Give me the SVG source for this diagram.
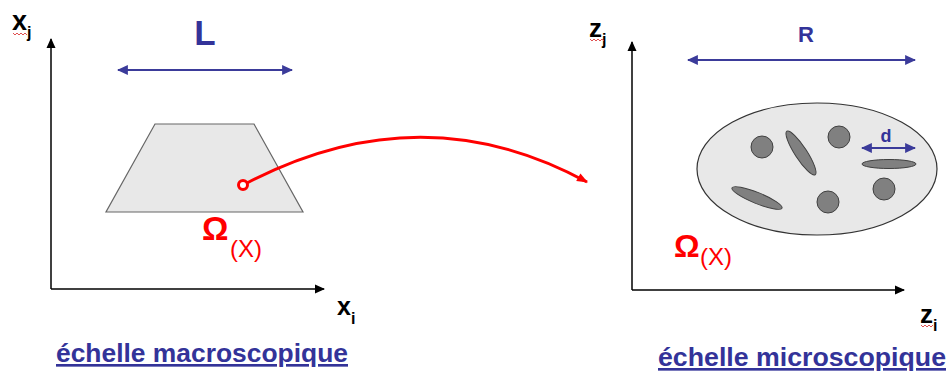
<svg xmlns="http://www.w3.org/2000/svg" width="949" height="372" viewBox="0 0 949 372">
<style>
.ax{stroke:#000;stroke-width:1.5;fill:none}
.lab{font-family:"Liberation Sans",Arial,sans-serif;font-weight:bold;fill:#000}
.blue{font-family:"Liberation Sans",Arial,sans-serif;font-weight:bold;fill:#333399}
.red{font-family:"Liberation Sans",Arial,sans-serif;fill:#ff0000}
.dim{stroke:#3b3b9a;stroke-width:2;fill:none}
.part{fill:#808080;stroke:#404040;stroke-width:1}
.sq{stroke:#e05050;stroke-width:1;fill:none}
</style>
<defs>
<marker id="ah" viewBox="0 0 10 10" refX="9" refY="5" markerWidth="10" markerHeight="10" markerUnits="userSpaceOnUse" orient="auto"><path d="M0,0.5 L10,5 L0,9.5 Z" fill="#000"/></marker>
<marker id="bh" viewBox="0 0 10 10" refX="9" refY="5" markerWidth="11" markerHeight="11" markerUnits="userSpaceOnUse" orient="auto-start-reverse"><path d="M0,0.5 L10,5 L0,9.5 Z" fill="#3b3b9a"/></marker>
<marker id="rh" viewBox="0 0 10 10" refX="9" refY="5" markerWidth="15" markerHeight="11" markerUnits="userSpaceOnUse" orient="auto"><path d="M0,1 L10,5 L0,9 Z" fill="#ff0000"/></marker>
</defs>

<g id="axes-macro">
<path class="ax" d="M51,289 L51,39" marker-end="url(#ah)"/>
<path class="ax" d="M51,289 L324,289" marker-end="url(#ah)"/>
<text class="lab" x="12" y="30" font-size="27">x<tspan font-size="16" dy="8">j</tspan></text>
<path class="sq" d="M13,33 l2,2 l2,-2 l2,2 l2,-2 l2,2 l2,-2 l2,2"/>
<text class="lab" x="337" y="315" font-size="25">x<tspan font-size="16" dy="9">i</tspan></text>
</g>

<g id="L-dimension">
<path class="dim" d="M118,70 L292,70" marker-start="url(#bh)" marker-end="url(#bh)"/>
<text class="blue" x="205" y="45" font-size="35" text-anchor="middle">L</text>
</g>

<g id="trapezoid">
<polygon points="155,124 254,124 303,212 106,212" fill="#e8e8e8" stroke="#666" stroke-width="1.2"/>
<text class="red" x="202" y="240" font-size="33" font-weight="bold">Ω</text>
<text class="red" x="230" y="257" font-size="24">(X)</text>
</g>

<g id="axes-micro">
<path class="ax" d="M632,290 L632,42" marker-end="url(#ah)"/>
<path class="ax" d="M632,290 L904,290" marker-end="url(#ah)"/>
<text class="lab" x="589" y="37" font-size="26">z<tspan font-size="16" dy="8">j</tspan></text>
<path class="sq" d="M590,39 l2,2 l2,-2 l2,2 l2,-2 l2,2 l2,-2 l2,2"/>
<text class="lab" x="920" y="323" font-size="26">z<tspan font-size="16" dy="8">i</tspan></text>
<path class="sq" d="M921,325 l2,2 l2,-2 l2,2 l2,-2 l2,2 l2,-2"/>
</g>

<g id="R-dimension">
<path class="dim" d="M688,60 L915,60" marker-start="url(#bh)" marker-end="url(#bh)"/>
<text class="blue" x="806" y="42" font-size="22" text-anchor="middle">R</text>
</g>

<g id="ellipse-rve">
<ellipse cx="817" cy="169" rx="120" ry="66" fill="#e8e8e8" stroke="#333" stroke-width="1.2"/>
<circle class="part" cx="762" cy="147" r="11"/>
<ellipse class="part" cx="801" cy="153" rx="26" ry="6" transform="rotate(57 801 153)"/>
<circle class="part" cx="839" cy="137" r="11"/>
<ellipse class="part" cx="889" cy="164" rx="27" ry="4.5"/>
<circle class="part" cx="884" cy="189" r="11"/>
<circle class="part" cx="828" cy="202" r="11"/>
<ellipse class="part" cx="757" cy="198" rx="27" ry="5.5" transform="rotate(22 757 198)"/>
<path class="dim" d="M862,148 L915,148" marker-start="url(#bh)" marker-end="url(#bh)"/>
<text class="blue" x="886" y="142" font-size="18" text-anchor="middle">d</text>
<text class="red" x="674" y="257" font-size="32" font-weight="bold">Ω</text>
<text class="red" x="700" y="265" font-size="24">(X)</text>
</g>

<g id="connectors">
<path d="M247,183 Q422,92 587,182" stroke="#ff0000" stroke-width="3" fill="none" marker-end="url(#rh)"/>
<circle cx="243" cy="185" r="4.5" fill="#fff" stroke="#ff0000" stroke-width="3"/>
</g>

<g id="titles">
<text class="blue" x="56" y="362" font-size="26.5" text-decoration="underline" textLength="292" lengthAdjust="spacingAndGlyphs">échelle macroscopique</text>
<text class="blue" x="658" y="366" font-size="26.5" text-decoration="underline" textLength="288" lengthAdjust="spacingAndGlyphs">échelle microscopique</text>
</g>
</svg>
